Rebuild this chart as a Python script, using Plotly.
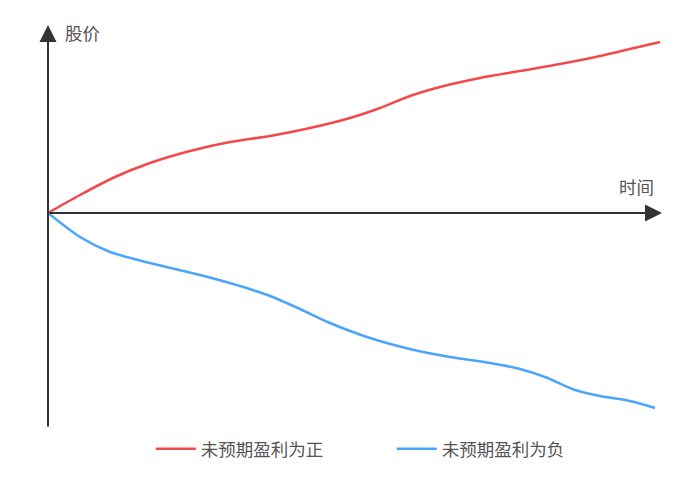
import plotly.graph_objects as go

# time (arbitrary units) and price deviation
time_pos = [0, 32, 67, 102, 142, 182, 222, 262, 302, 332, 362, 392, 432, 472, 512, 552, 582, 612]
price_pos = [0, 18, 36, 50, 62, 71, 77, 85, 95, 105, 117, 126, 135, 142, 149, 157, 164, 171]

time_neg = [0, 32, 62, 102, 152, 192, 222, 252, 282, 322, 362, 402, 442, 472, 497, 527, 552, 582, 607]
price_neg = [0, -24, -39, -50, -62, -73, -83, -96, -110, -125, -136, -144, -150, -156, -164, -177, -183, -188, -195]

series_names = ["未预期盈利为正", "未预期盈利为负"]
series_colors = ["#f24a4a", "#4ba5fb"]
axis_labels = {"y": "股价", "x": "时间"}

FONT = "Noto Sans CJK SC"

fig = go.Figure()
fig.add_trace(go.Scatter(x=time_pos, y=price_pos, mode="lines", name=series_names[0],
                         line=dict(color=series_colors[0], width=2.5, shape="spline", smoothing=0.8)))
fig.add_trace(go.Scatter(x=time_neg, y=price_neg, mode="lines", name=series_names[1],
                         line=dict(color=series_colors[1], width=2.5, shape="spline", smoothing=0.8)))

x_max = 614
y_min, y_max = -215, 188

axis_color = "#333333"
# x axis arrow
fig.add_annotation(x=x_max, y=0, ax=0, ay=0, xref="x", yref="y", axref="x", ayref="y",
                   showarrow=True, arrowhead=2, arrowsize=1.7, arrowwidth=2, arrowcolor=axis_color, text="")
# y axis arrow
fig.add_annotation(x=0, y=y_max, ax=0, ay=y_min, xref="x", yref="y", axref="x", ayref="y",
                   showarrow=True, arrowhead=2, arrowsize=1.7, arrowwidth=2, arrowcolor=axis_color, text="")

fig.add_annotation(x=0, y=y_max, xref="x", yref="y", text=axis_labels["y"], showarrow=False,
                   xanchor="left", yanchor="middle", xshift=15, yshift=-7,
                   font=dict(family=FONT, size=17.5, color="#555555"))
fig.add_annotation(x=x_max, y=0, xref="x", yref="y", text=axis_labels["x"], showarrow=False,
                   xanchor="right", yanchor="middle", xshift=-6, yshift=27,
                   font=dict(family=FONT, size=17.5, color="#555555"))

fig.update_xaxes(range=[0, x_max], visible=False, showgrid=False, zeroline=False)
fig.update_yaxes(range=[y_min, y_max], visible=False, showgrid=False, zeroline=False)

fig.update_layout(
    width=700, height=486,
    margin=dict(l=40, r=46, t=17, b=66),
    paper_bgcolor="white", plot_bgcolor="white",
    showlegend=True,
    legend=dict(orientation="h", x=0.56, xanchor="center", y=-0.052, yanchor="middle",
                font=dict(family=FONT, size=17.5, color="#555555"),
                entrywidth=186, itemwidth=40),
)

fig.write_html("out.html")
